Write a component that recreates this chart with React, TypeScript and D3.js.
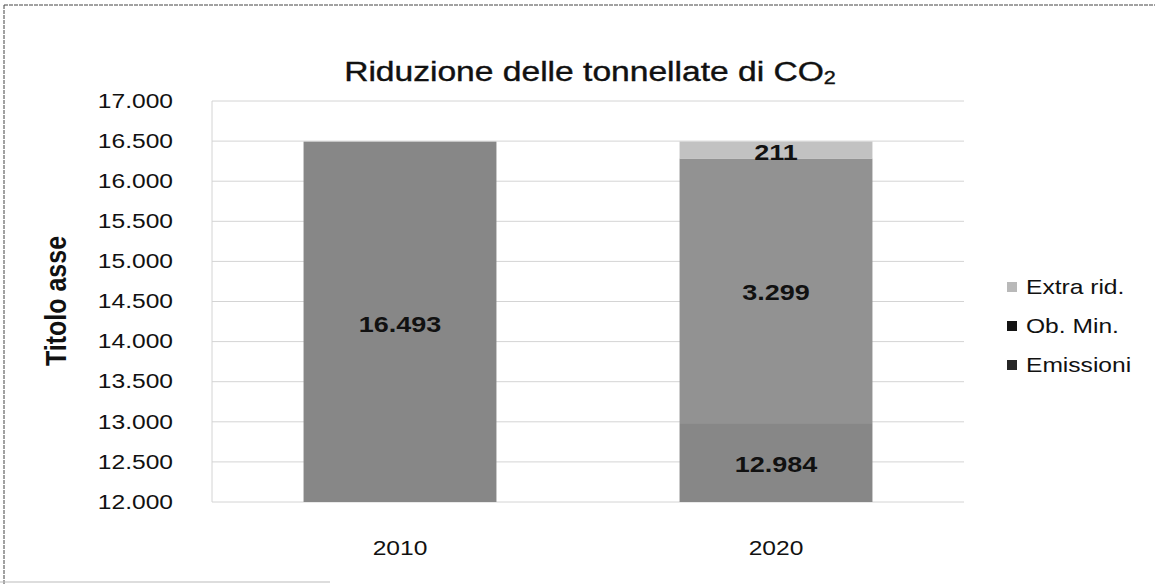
import React from 'react';
import * as d3 from 'd3';

// categories and stacked series
const years = ['2010', '2020'];
const emissioni = [16493, 12984];
const obMin = [0, 3299];
const extraRid = [0, 211];
const seriesNames = ['Emissioni', 'Ob. Min.', 'Extra rid.'];
const yTicks = [12000, 12500, 13000, 13500, 14000, 14500, 15000, 15500, 16000, 16500, 17000];

const W = 1155;
const H = 584;
const margin = { left: 212, right: 191, top: 101, bottom: 82 };
const SX = 1.2; // the scan is stretched horizontally
const font = '"Liberation Sans", Arial, sans-serif';

const barColors = ['#878787', '#929292', '#c2c2c2'];
const legendColors = ['#262626', '#141414', '#b9b9b9'];

const fmt = (v: number) => d3.format(',')(v).replace(/,/g, '.');

// text drawn with a horizontal stretch
const SText: React.FC<{
  x: number; y: number; size: number; anchor?: string; weight?: string; rotate?: number; children: React.ReactNode;
}> = ({ x, y, size, anchor = 'middle', weight = 'normal', rotate = 0, children }) => (
  <text
    transform={`translate(${x},${y}) scale(${SX},1)${rotate ? ` rotate(${rotate})` : ''}`}
    textAnchor={anchor}
    dominantBaseline="central"
    fontFamily={font}
    fontSize={size}
    fontWeight={weight}
    fill="#111"
  >
    {children}
  </text>
);

const App: React.FC = () => {
  const x = d3.scaleBand<string>()
    .domain(years)
    .range([margin.left, W - margin.right])
    .paddingInner(0.487)
    .paddingOuter(0.2435);
  const y = d3.scaleLinear()
    .domain([12000, 17000])
    .range([H - margin.bottom, margin.top]);

  const table = years.map((yr, i) => ({ year: yr, Emissioni: emissioni[i], 'Ob. Min.': obMin[i], 'Extra rid.': extraRid[i] }));
  const stacked = d3.stack<any>().keys(seriesNames)(table);

  return (
    <svg width={W} height={H} style={{ position: 'absolute', left: 0, top: 0, background: '#fff' }}>
      {/* frame (runs off the right edge of the scan) */}
      <line x1={4} x2={W} y1={5} y2={5} stroke="#444" strokeDasharray="4,1" />
      <line x1={4} x2={4} y1={5} y2={H} stroke="#444" strokeDasharray="4,1" />
      <line x1={0} x2={330} y1={582} y2={582} stroke="#bbb" />

      {/* title */}
      <g transform={`translate(590,71) scale(${SX},1)`}>
        <text textAnchor="middle" dominantBaseline="central" fontFamily={font} fontSize={28} fill="#111" stroke="#111" strokeWidth={0.4}>
          Riduzione delle tonnellate di CO<tspan fontSize={18} dy={7}>2</tspan>
        </text>
      </g>

      {/* gridlines */}
      {yTicks.map(t => (
        <line key={t} x1={margin.left} x2={W - margin.right} y1={y(t)} y2={y(t)} stroke="#d4d4d4" strokeWidth={1} />
      ))}
      <line x1={margin.left} x2={margin.left} y1={margin.top} y2={H - margin.bottom} stroke="#d4d4d4" />

      {/* y tick labels */}
      {yTicks.map(t => (
        <SText key={t} x={173} y={y(t)} size={20.5} anchor="end">{fmt(t)}</SText>
      ))}

      {/* axis title */}
      <SText x={56} y={301} size={25} weight="bold" rotate={-90}>Titolo asse</SText>

      {/* bars */}
      {stacked.map((s, si) => s.map((d, i) => {
        const v = d[1] - d[0];
        if (!v) return null;
        const y0 = y(Math.max(d[0], 12000));
        const y1 = y(d[1]);
        return (
          <g key={`${si}-${i}`}>
            <rect x={x(years[i])!} width={x.bandwidth()} y={y1} height={y0 - y1} fill={barColors[si]} />
            <SText x={x(years[i])! + x.bandwidth() / 2} y={(y0 + y1) / 2 + 2} size={22.5} weight="bold">{fmt(v)}</SText>
          </g>
        );
      }))}

      {/* x labels */}
      {years.map(yr => (
        <SText key={yr} x={x(yr)! + x.bandwidth() / 2} y={548} size={20.5}>{yr}</SText>
      ))}

      {/* legend */}
      {[2, 1, 0].map((si, k) => (
        <g key={si}>
          <rect x={1007} y={282 + k * 39} width={10} height={10} fill={legendColors[si]} />
          <SText x={1026} y={287 + k * 39} size={20.5} anchor="start">{seriesNames[si]}</SText>
        </g>
      ))}
    </svg>
  );
};

export default App;
